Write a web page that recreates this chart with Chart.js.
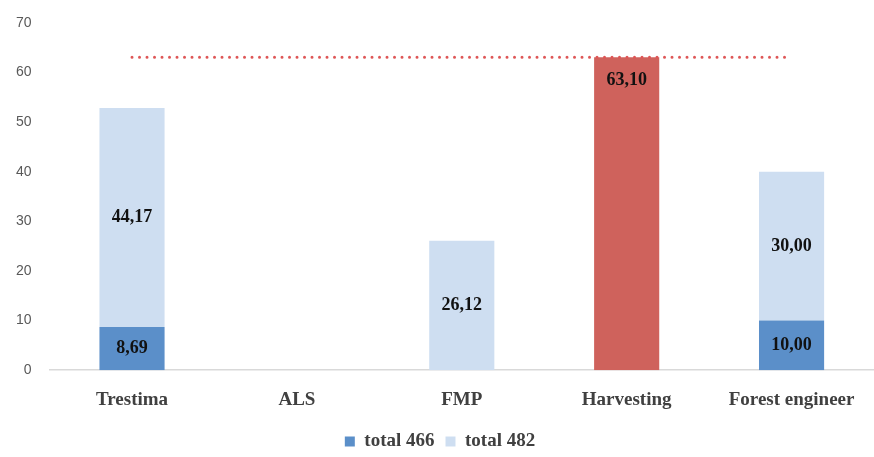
<!DOCTYPE html>
<html>
<head>
<meta charset="utf-8">
<script src="https://cdn.jsdelivr.net/npm/chart.js@4/dist/chart.umd.min.js"></script>
<style>
  html, body { margin: 0; padding: 0; background: #fff; }
  #wrap { width: 874px; height: 457px; }
</style>
</head>
<body>
<div id="wrap"><canvas id="chart"></canvas></div>
<script>
// Chart values
const categories = ['Trestima', 'ALS', 'FMP', 'Harvesting', 'Forest engineer'];
const total466 = [8.69, null, null, null, 10.00];
const total482 = [44.17, null, 26.12, 63.10, 30.00];
const referenceLine = [63.1, 63.1, 63.1, 63.1, 63.1];
const yTicks = [0, 10, 20, 30, 40, 50, 60, 70];

const darkBlue = '#5B8FC9';
const lightBlue = '#CEDEF1';
const red = '#CF625C';

// light series, Harvesting bar is drawn red
const lightColors = categories.map(c => c === 'Harvesting' ? red : lightBlue);

// Draw the value labels inside the bars
const barLabels = {
    id: 'barLabels',
    beforeInit(chart) {
        // keep wide gaps between legend items but a short legend box
        const legend = chart.legend;
        if (!legend) return;
        const fit = legend.fit;
        legend.fit = function() {
            fit.call(this);
            this.height -= 4;
        };
    },
    afterDatasetsDraw(chart) {
        const ctx = chart.ctx;
        ctx.save();
        ctx.font = 'bold 18px "Liberation Serif", "Times New Roman", serif';
        ctx.fillStyle = '#111';
        ctx.textAlign = 'center';
        ctx.textBaseline = 'middle';
        chart.data.datasets.forEach(function(ds, i) {
            if (ds.type !== 'bar') return;
            const meta = chart.getDatasetMeta(i);
            meta.data.forEach(function(bar, j) {
                const v = ds.data[j];
                if (v === null || v === undefined) return;
                let y = (bar.y + bar.base) / 2;
                if (categories[j] === 'Harvesting') y = bar.y + 23;
                ctx.fillText(v.toFixed(2).replace('.', ','), bar.x, y);
            });
        });
        ctx.restore();
    }
};

const ctx = document.getElementById('chart').getContext('2d');
const chart = new Chart(ctx, {
    data: {
        labels: categories,
        datasets: [
            {
                type: 'line',
                label: 'reference',
                data: referenceLine,
                borderColor: '#DE5656',
                borderWidth: 3,
                borderDash: [0, 7.5],
                borderCapStyle: 'round',
                pointRadius: 0,
                fill: false,
                order: 0
            },
            {
                type: 'bar',
                label: 'total 466',
                data: total466,
                backgroundColor: darkBlue,
                stack: 'bars',
                order: 1
            },
            {
                type: 'bar',
                label: 'total 482',
                data: total482,
                backgroundColor: lightColors,
                stack: 'bars',
                order: 1
            }
        ]
    },
    options: {
        responsive: true,
        maintainAspectRatio: false,
        animation: false,
        datasets: {
            bar: { categoryPercentage: 1, barPercentage: 0.395 }
        },
        layout: { padding: { left: 6, right: 0, top: 23, bottom: 0 } },
        scales: {
            x: {
                stacked: true,
                grid: { display: false },
                border: { display: true, color: '#D9D9D9', width: 1.5 },
                ticks: {
                    color: '#404040',
                    padding: 10,
                    font: { family: '"Liberation Serif", "Times New Roman", serif', size: 19, weight: 'bold' }
                }
            },
            y: {
                stacked: true,
                min: 0,
                max: 70,
                afterBuildTicks: function(axis) {
                    axis.ticks = yTicks.map(v => ({ value: v }));
                },
                grid: { display: false },
                border: { display: false },
                ticks: {
                    color: '#595959',
                    padding: 10,
                    font: { family: '"Liberation Sans", Arial, sans-serif', size: 14 }
                }
            }
        },
        plugins: {
            legend: {
                position: 'bottom',
                labels: {
                    filter: item => item.text !== 'reference',
                    boxWidth: 10,
                    boxHeight: 10,
                    padding: 11,
                    color: '#404040',
                    font: { family: '"Liberation Serif", "Times New Roman", serif', size: 19, weight: 'bold' }
                }
            },
            tooltip: { enabled: false }
        }
    },
    plugins: [barLabels]
});
</script>
</body>
</html>
